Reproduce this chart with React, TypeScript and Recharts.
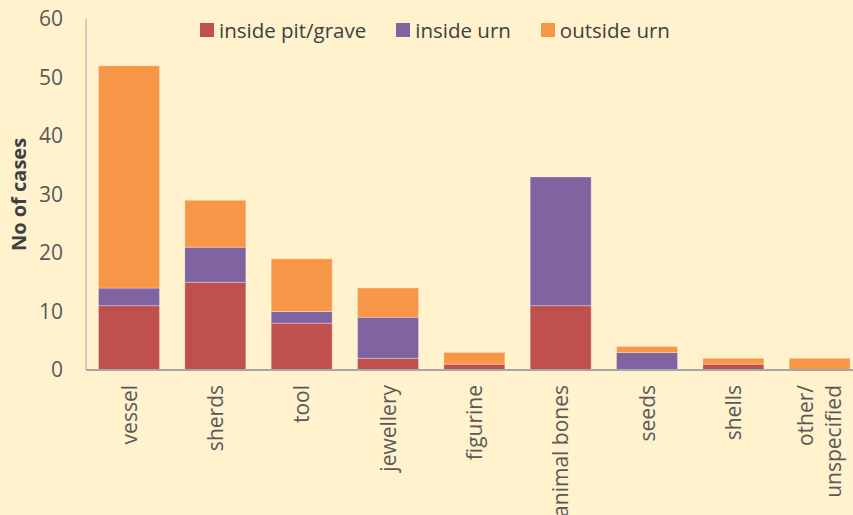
import { BarChart, Bar, XAxis, YAxis, Label } from 'recharts'

const categories = ['vessel', 'sherds', 'tool', 'jewellery', 'figurine', 'animal bones', 'seeds', 'shells', 'other/\nunspecified']
const insidePit = [11, 15, 8, 2, 1, 11, 0, 1, 0]
const insideUrn = [3, 6, 2, 7, 0, 22, 3, 0, 0]
const outsideUrn = [38, 8, 9, 5, 2, 0, 1, 1, 2]
const yTicks = [0, 10, 20, 30, 40, 50, 60]

const series = [
  { key: 'pit', name: 'inside pit/grave', color: '#C0504D' },
  { key: 'urn', name: 'inside urn', color: '#8064A2' },
  { key: 'out', name: 'outside urn', color: '#F79646' },
]

const data = categories.map((c, i) => ({
  name: c,
  pit: insidePit[i],
  urn: insideUrn[i],
  out: outsideUrn[i],
}))

const font = '"Open Sans", sans-serif'

function XTick({ x, y, payload }: any) {
  const lines = String(payload.value).split('\n')
  const first = 0.35 - ((lines.length - 1) * 1.36) / 2
  return (
    <text
      x={x}
      y={y}
      transform={`rotate(-90, ${x}, ${y})`}
      textAnchor="end"
      fill="#595959"
      fontSize={21}
      fontFamily={font}
    >
      {lines.map((l, i) => (
        <tspan key={i} x={x} dy={i === 0 ? `${first}em` : '1.36em'}>
          {l}
        </tspan>
      ))}
    </text>
  )
}

export default function App() {
  return (
    <div
      style={{
        position: 'fixed',
        left: 0,
        top: 0,
        width: 853,
        height: 515,
        overflow: 'hidden',
        background: '#FFF2CC',
        fontFamily: font,
      }}
    >
      <div
        style={{
          position: 'absolute',
          top: 16,
          left: 200,
          display: 'flex',
          fontSize: 20.5,
          color: '#404040',
          lineHeight: '28px',
          zIndex: 2,
        }}
      >
        {series.map((s, i) => (
          <div key={s.key} style={{ display: 'flex', alignItems: 'center', marginRight: i < 2 ? 30 : 0 }}>
            <span style={{ width: 14, height: 14, background: s.color, display: 'inline-block', marginRight: 5 }} />
            <span>{s.name}</span>
          </div>
        ))}
      </div>
      <BarChart
        width={880}
        height={515}
        data={data}
        margin={{ top: 19, right: 17, bottom: 0, left: 0 }}
        barCategoryGap="14.5%"
      >
        <XAxis
          dataKey="name"
          height={145}
          tickLine={false}
          axisLine={{ stroke: '#A6A6A6', strokeWidth: 2 }}
          interval={0}
          tick={<XTick />}
          tickMargin={9}
        />
        <YAxis
          width={86}
          domain={[0, 60]}
          ticks={yTicks}
          tickLine={false}
          tickSize={0}
          tickMargin={23}
          axisLine={{ stroke: '#BFBFBF', strokeWidth: 1.5 }}
          tick={{ fill: '#595959', fontSize: 21, fontFamily: font }}
        >
          <Label
            value="No of cases"
            angle={-90}
            position="insideLeft"
            offset={19}
            style={{ fill: '#404040', fontSize: 20, fontWeight: 'bold', fontFamily: font, textAnchor: 'middle' }}
          />
        </YAxis>
        {series.map((s) => (
          <Bar
            key={s.key}
            dataKey={s.key}
            name={s.name}
            stackId="a"
            fill={s.color}
            stroke="#ffffff"
            strokeOpacity={0.3}
            strokeWidth={1}
            isAnimationActive={false}
          />
        ))}
      </BarChart>
    </div>
  )
}
